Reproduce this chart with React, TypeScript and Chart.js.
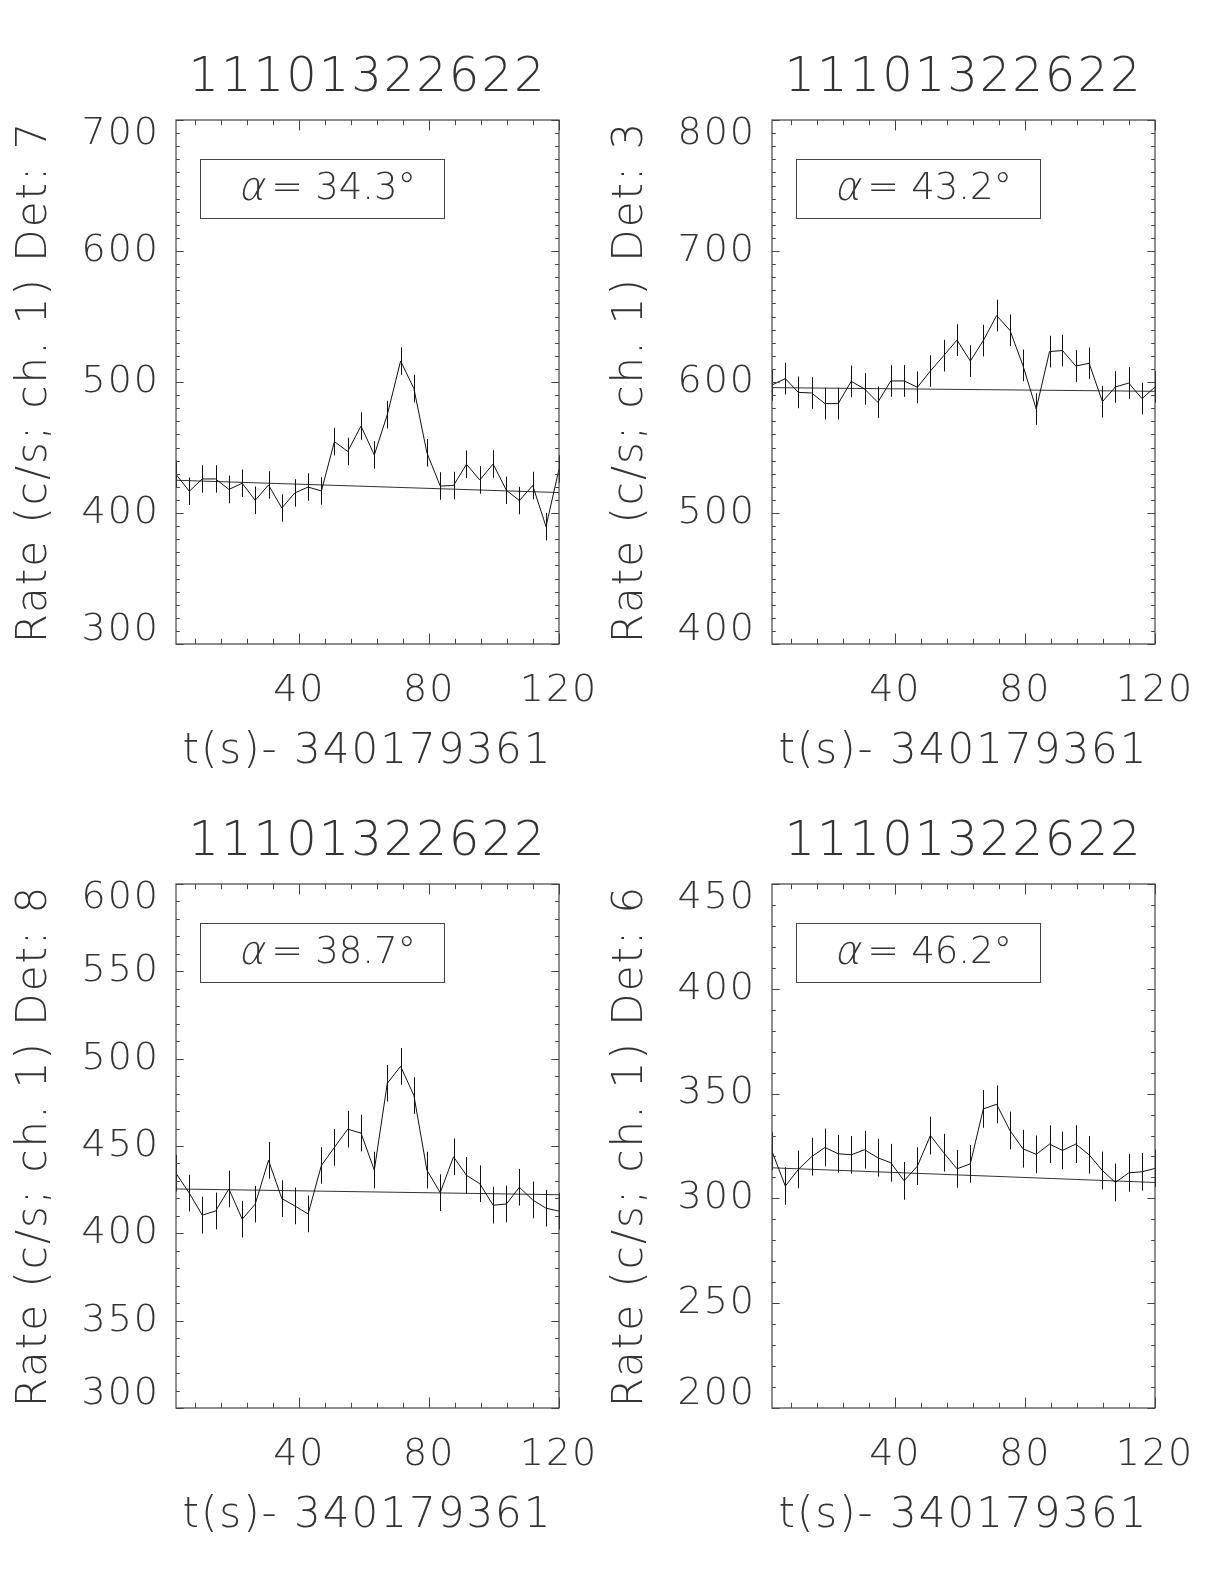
import React, { useEffect, useRef } from "react";
import { Chart, registerables } from "chart.js";

Chart.register(...registerables);

const TITLE = "11101322622";
const X_TITLE = "t(s)- 340179361";
const Y_TITLE_BASE = "Rate (c/s; ch. 1) Det:";

const TIMES = [
  2.0, 6.1, 10.1, 14.2, 18.3, 22.4, 26.4, 30.5, 34.6, 38.6, 42.7, 46.8, 50.8, 54.9, 59.0,
  63.1, 67.1, 71.2, 75.3, 79.3, 83.4, 87.5, 91.5, 95.6, 99.7, 103.8, 107.8, 111.9, 116.0, 120.0,
];
const BG_TIMES = [2.0, 120.0];
const X_MIN = 2;
const X_MAX = 120;
const X_TICKS = [40, 80, 120];

// Panel 1 (Det 7)
const P1_RATE = [
  429.5, 416.6, 426.0, 426.0, 418.0, 422.7, 409.7, 421.4, 403.8, 415.3, 419.8, 416.8, 454.5, 447.0, 466.4,
  444.3, 475.1, 516.0, 495.0, 446.0, 420.6, 421.0, 437.2, 425.2, 437.4, 417.3, 409.5, 421.0, 389.6, 433.6,
];
const P1_BG = [425.0, 415.6];
const P1_ERR = 10.5;
const P1_YTICKS = [300, 400, 500, 600, 700];
const P1_ALPHA = "34.3";
const P1_DET = "7";

// Panel 2 (Det 3)
const P2_RATE = [
  597.7, 602.6, 592.1, 591.6, 583.5, 583.5, 600.5, 594.7, 584.5, 600.8, 600.8, 596.0, 608.4, 620.1, 632.0,
  616.0, 631.6, 650.7, 639.5, 612.7, 579.4, 623.2, 624.0, 612.2, 614.3, 585.0, 596.2, 599.2, 587.3, 596.2,
];
const P2_BG = [595.7, 592.9];
const P2_ERR = 12.1;
const P2_YTICKS = [400, 500, 600, 700, 800];
const P2_ALPHA = "43.2";
const P2_DET = "3";

// Panel 3 (Det 8)
const P3_RATE = [
  434.4, 423.0, 410.4, 412.8, 425.4, 408.1, 416.7, 441.8, 419.9, 415.7, 411.1, 438.9, 449.2, 459.6, 457.4,
  436.2, 485.9, 495.6, 478.9, 436.2, 423.3, 443.8, 433.2, 428.4, 416.1, 416.8, 426.4, 419.1, 414.4, 412.7,
];
const P3_BG = [425.4, 422.1];
const P3_ERR = 10.5;
const P3_YTICKS = [300, 350, 400, 450, 500, 550, 600];
const P3_ALPHA = "38.7";
const P3_DET = "8";

// Panel 4 (Det 6)
const P4_RATE = [
  322.5, 305.9, 313.8, 319.9, 324.3, 321.3, 320.8, 323.2, 319.4, 317.0, 308.4, 315.4, 330.0, 321.8, 314.1,
  316.5, 342.7, 344.9, 332.4, 323.7, 321.0, 325.9, 322.9, 325.9, 320.8, 313.3, 307.6, 312.2, 312.7, 314.3,
];
const P4_BG = [314.6, 307.6];
const P4_ERR = 9.0;
const P4_YTICKS = [200, 250, 300, 350, 400, 450];
const P4_ALPHA = "46.2";
const P4_DET = "6";

const Y_MINOR = 10;
const X_MINOR = 8;

const FONT = "'DejaVu Sans', 'Liberation Sans', sans-serif";
const TEXT_COLOR = "#333";
const AXIS_COLOR = "#444";

type PanelDef = {
  rate: number[];
  bg: number[];
  err: number;
  yticks: number[];
  alpha: string;
  det: string;
  left: number;
  top: number;
};

const PANELS: PanelDef[] = [
  { rate: P1_RATE, bg: P1_BG, err: P1_ERR, yticks: P1_YTICKS, alpha: P1_ALPHA, det: P1_DET, left: 0, top: 0 },
  { rate: P2_RATE, bg: P2_BG, err: P2_ERR, yticks: P2_YTICKS, alpha: P2_ALPHA, det: P2_DET, left: 596, top: 0 },
  { rate: P3_RATE, bg: P3_BG, err: P3_ERR, yticks: P3_YTICKS, alpha: P3_ALPHA, det: P3_DET, left: 0, top: 764 },
  { rate: P4_RATE, bg: P4_BG, err: P4_ERR, yticks: P4_YTICKS, alpha: P4_ALPHA, det: P4_DET, left: 596, top: 764 },
];

const CANVAS_W = 620;
const CANVAS_H = 800;

const idlPlugin = {
  id: "idlFrame",
  beforeDraw(chart: any) {
    (chart.ctx as any).letterSpacing = "2px";
  },
  afterDatasetsDraw(chart: any, _args: any, opts: any) {
    const { ctx, chartArea } = chart;
    const xs = chart.scales.x;
    const ys = chart.scales.y;
    const { left, right, top, bottom } = chartArea;
    const w = right - left;
    const h = bottom - top;
    ctx.save();

    // error bars
    ctx.strokeStyle = "#111";
    ctx.lineWidth = 1;
    ctx.beginPath();
    const data = chart.data.datasets[0].data as { x: number; y: number }[];
    data.forEach((p) => {
      const px = Math.round(xs.getPixelForValue(p.x)) + 0.5;
      const y1 = ys.getPixelForValue(p.y - opts.err);
      const y2 = ys.getPixelForValue(p.y + opts.err);
      ctx.moveTo(px, y1);
      ctx.lineTo(px, y2);
    });
    ctx.stroke();

    // frame
    ctx.strokeStyle = AXIS_COLOR;
    ctx.lineWidth = 1.2;
    ctx.strokeRect(left, top, w, h);

    // ticks (inward, all four sides)
    const xMajorLen = 0.02 * h;
    const yMajorLen = 0.02 * w;
    ctx.lineWidth = 1;
    ctx.beginPath();
    const xMaj: number[] = opts.xticks;
    for (let v = Math.ceil(xs.min / X_MINOR) * X_MINOR; v <= xs.max + 1e-6; v += X_MINOR) {
      const isMaj = xMaj.indexOf(v) >= 0;
      const len = isMaj ? xMajorLen : xMajorLen / 2;
      const px = Math.round(xs.getPixelForValue(v)) + 0.5;
      ctx.moveTo(px, bottom);
      ctx.lineTo(px, bottom - len);
      ctx.moveTo(px, top);
      ctx.lineTo(px, top + len);
    }
    const yMaj: number[] = opts.yticks;
    for (let v = ys.min; v <= ys.max + 1e-6; v += Y_MINOR) {
      const isMaj = yMaj.indexOf(v) >= 0;
      const len = isMaj ? yMajorLen : yMajorLen / 2;
      const py = Math.round(ys.getPixelForValue(v)) + 0.5;
      ctx.moveTo(left, py);
      ctx.lineTo(left + len, py);
      ctx.moveTo(right, py);
      ctx.lineTo(right - len, py);
    }
    ctx.stroke();

    // alpha box
    const bx1 = left + 0.062 * w;
    const bx2 = left + 0.7 * w;
    const by1 = top + 0.074 * h;
    const by2 = top + 0.187 * h;
    ctx.strokeStyle = AXIS_COLOR;
    ctx.lineWidth = 1;
    ctx.strokeRect(Math.round(bx1) + 0.5, Math.round(by1) + 0.5, Math.round(bx2 - bx1), Math.round(by2 - by1));
    ctx.fillStyle = TEXT_COLOR;
    ctx.textBaseline = "middle";
    ctx.textAlign = "left";
    const tx = left + 0.167 * w;
    const ty = (by1 + by2) / 2 + 1;
    ctx.font = `200 40px ${FONT}`;
    (ctx as any).letterSpacing = "0px";
    const aw = ctx.measureText("\u03b1").width;
    ctx.save();
    ctx.translate(tx, ty);
    ctx.transform(1, 0, -0.22, 1, 0, 0);
    ctx.fillText("\u03b1", 0, 0);
    ctx.restore();
    ctx.font = `200 38px ${FONT}`;
    ctx.fillText("=", tx + aw + 5, ty);
    const ew = ctx.measureText("=").width;
    ctx.font = `200 37px ${FONT}`;
    ctx.fillText(`${opts.alpha}\u00b0`, tx + aw + 5 + ew + 12, ty);
    ctx.restore();
  },
};

function Panel({ def }: { def: PanelDef }) {
  const ref = useRef<HTMLCanvasElement | null>(null);
  useEffect(() => {
    if (!ref.current) return;
    const points = TIMES.map((t, i) => ({ x: t, y: def.rate[i] }));
    const bgPoints = BG_TIMES.map((t, i) => ({ x: t, y: def.bg[i] }));
    const ymin = def.yticks[0];
    const ymax = def.yticks[def.yticks.length - 1];
    const chart = new Chart(ref.current, {
      type: "line",
      data: {
        datasets: [
          {
            data: points,
            borderColor: "#111",
            borderWidth: 1,
            pointRadius: 0,
            tension: 0,
            fill: false,
          },
          {
            data: bgPoints,
            borderColor: "#333",
            borderWidth: 1,
            pointRadius: 0,
            tension: 0,
            fill: false,
          },
        ],
      },
      options: {
        animation: false,
        responsive: false,
        devicePixelRatio: 1,
        events: [],
        layout: { padding: { left: 0, right: 61, top: 0, bottom: 0 } },
        plugins: {
          legend: { display: false },
          tooltip: { enabled: false },
          title: {
            display: true,
            text: TITLE,
            fullSize: false,
            color: TEXT_COLOR,
            font: { family: FONT, size: 48, weight: "200" as any, lineHeight: 1.2 },
            padding: { top: 50, bottom: 12.4 },
          },
          idlFrame: { err: def.err, alpha: def.alpha, xticks: X_TICKS, yticks: def.yticks },
        } as any,
        scales: {
          x: {
            type: "linear",
            min: X_MIN,
            max: X_MAX,
            afterBuildTicks: (s: any) => {
              s.ticks = X_TICKS.map((v) => ({ value: v }));
            },
            afterFit: (s: any) => {
              s.height = 156;
            },
            grid: { display: false, drawTicks: false },
            border: { display: false },
            ticks: {
              color: TEXT_COLOR,
              font: { family: FONT, size: 38, weight: "200" as any },
              padding: 24,
              maxRotation: 0,
              autoSkip: false,
            },
            title: {
              display: true,
              text: X_TITLE,
              color: TEXT_COLOR,
              font: { family: FONT, size: 42, weight: "200" as any, lineHeight: 1.2 },
              padding: { top: 0, bottom: 23 },
            },
          },
          y: {
            type: "linear",
            min: ymin,
            max: ymax,
            afterBuildTicks: (s: any) => {
              s.ticks = def.yticks.map((v) => ({ value: v }));
            },
            afterFit: (s: any) => {
              s.width = 176;
            },
            grid: { display: false, drawTicks: false },
            border: { display: false },
            ticks: {
              color: TEXT_COLOR,
              font: { family: FONT, size: 38, weight: "200" as any, lineHeight: 0.74 },
              padding: 16,
              autoSkip: false,
              callback: (v: any, i: number, ticks: any[]) => {
                const s = String(v);
                if (i === ticks.length - 1) return ["", s];
                if (i === 0) return [s, ""];
                return s;
              },
            },
            title: {
              display: true,
              text: `${Y_TITLE_BASE} ${def.det}`,
              color: TEXT_COLOR,
              font: { family: FONT, size: 42, weight: "200" as any, lineHeight: 1.2 },
              padding: { top: 10, bottom: 0 },
            },
          },
        },
      },
      plugins: [idlPlugin],
    });
    return () => chart.destroy();
  }, [def]);
  return (
    <canvas
      ref={ref}
      width={CANVAS_W}
      height={CANVAS_H}
      style={{ position: "absolute", left: def.left, top: def.top, width: CANVAS_W, height: CANVAS_H }}
    />
  );
}

export default function App() {
  return (
    <div
      style={{
        position: "absolute",
        left: 0,
        top: 0,
        width: 1224,
        height: 1584,
        background: "#fff",
        overflow: "hidden",
      }}
    >
      {PANELS.map((p, i) => (
        <Panel key={i} def={p} />
      ))}
    </div>
  );
}
